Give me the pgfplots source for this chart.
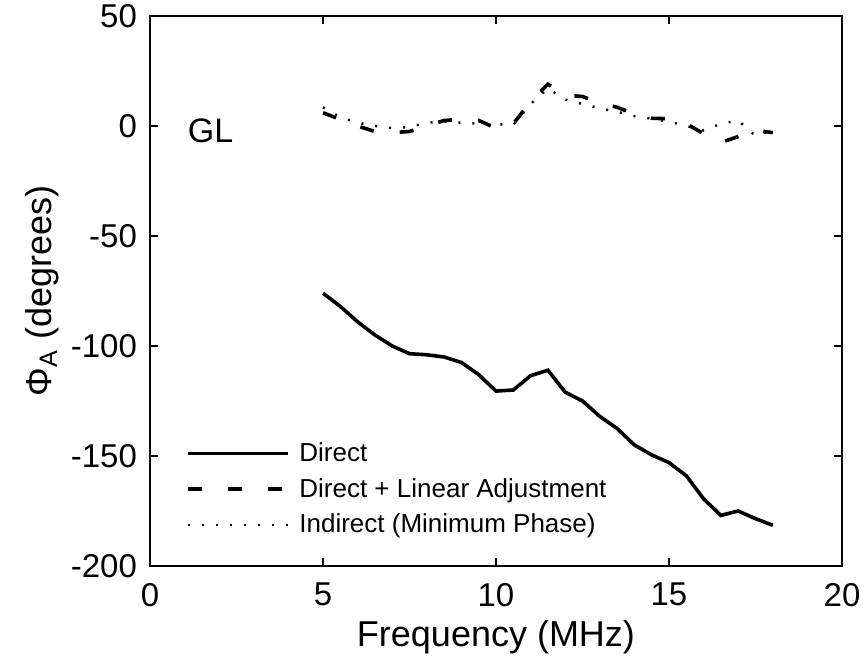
\documentclass[border=0pt]{standalone}
\usepackage{pgfplots}
\pgfplotsset{compat=1.18}
\usepackage{fontspec}
\setmainfont{Liberation Sans}
\begin{document}
\begin{tikzpicture}
\useasboundingbox (-75pt,-45pt) rectangle (358.5pt,283pt);
\begin{axis}[
  at={(0,0)}, anchor=south west,
  scale only axis, width=346pt, height=275pt,
  xmin=0, xmax=20, ymin=-200, ymax=50,
  xtick={0,5,10,15,20}, ytick={-200,-150,-100,-50,0,50},
  tick align=inside, major tick length=4pt,
  axis line style={line width=0.8pt}, tick style={line width=0.8pt, black},
  /pgf/number format/assume math mode=true,
  ticklabel style={font=\fontsize{16.5}{19}\selectfont},
  xticklabel style={yshift=-5pt},
  yticklabel style={xshift=-3pt},
  xlabel={Frequency (MHz)},
  ylabel={Φ\textsubscript{A} (degrees)},
  label style={font=\fontsize{18}{21}\selectfont},
  xlabel style={yshift=0pt},
  ylabel style={yshift=-1pt},
  legend style={draw=none, fill=none, at={(axis cs:0.85,-140)}, anchor=north west,
    font=\fontsize{13}{15.5}\selectfont, row sep=3pt,
    /tikz/every even column/.append style={column sep=0pt}},
  legend cell align=left,
  legend image code/.code={\draw[#1] (0pt,0pt) -- (50pt,0pt);},
  legend style={nodes={inner xsep=5pt}},
]
\addplot[black, line width=1.8pt] coordinates {
(5,-76) (5.5,-82) (6,-89) (6.5,-95) (7,-100) (7.5,-103.5) (8,-104) (8.5,-105)
(9,-107.5) (9.5,-113) (10,-120.5) (10.5,-120) (11,-113.5) (11.5,-111) (12,-121)
(12.5,-125) (13,-132) (13.5,-137.5) (14,-145) (14.5,-149.5) (15,-153) (15.5,-159)
(16,-169.5) (16.5,-177) (17,-175) (17.5,-178.5) (18,-181.5)};
\addlegendentry{Direct}
\addplot[black, line width=1.8pt, dash pattern=on 7pt off 13pt] coordinates {
(5,6) (5.5,3) (6,0) (6.5,-2.5) (7,-3) (7.5,-2.5) (8,0) (8.5,2.5) (9,3) (9.5,2.5)
(10,-1) (10.5,1) (11,11) (11.5,19) (12,14) (12.5,13.4) (13,10.4) (13.5,8.5)
(14,5.5) (14.5,3.5) (15,3.3) (15.5,1) (16,-3.5) (16.5,-7.5) (17,-4.8) (17.5,-2) (18,-3)};
\addlegendentry{Direct + Linear Adjustment}
\addplot[black, line width=1.2pt, dash pattern=on 1pt off 6pt] coordinates {
(5,8.5) (5.5,4) (6,1.5) (6.5,0) (7,-1) (7.5,-0.5) (8,1.5) (8.5,2) (9,1.5) (9.5,1)
(10,0.8) (10.5,0.5) (11,10) (11.5,17) (12,12) (12.5,10) (13,8) (13.5,6.5)
(14,4.5) (14.5,3.3) (15,2) (15.5,0) (16,-2) (16.5,1) (17,2.5) (17.5,-4.5) (18,-2)};
\addlegendentry{Indirect (Minimum Phase)}
\node[font=\fontsize{17}{20}\selectfont] at (axis cs:1.75,-2) {GL};
\end{axis}
\end{tikzpicture}
\end{document}
